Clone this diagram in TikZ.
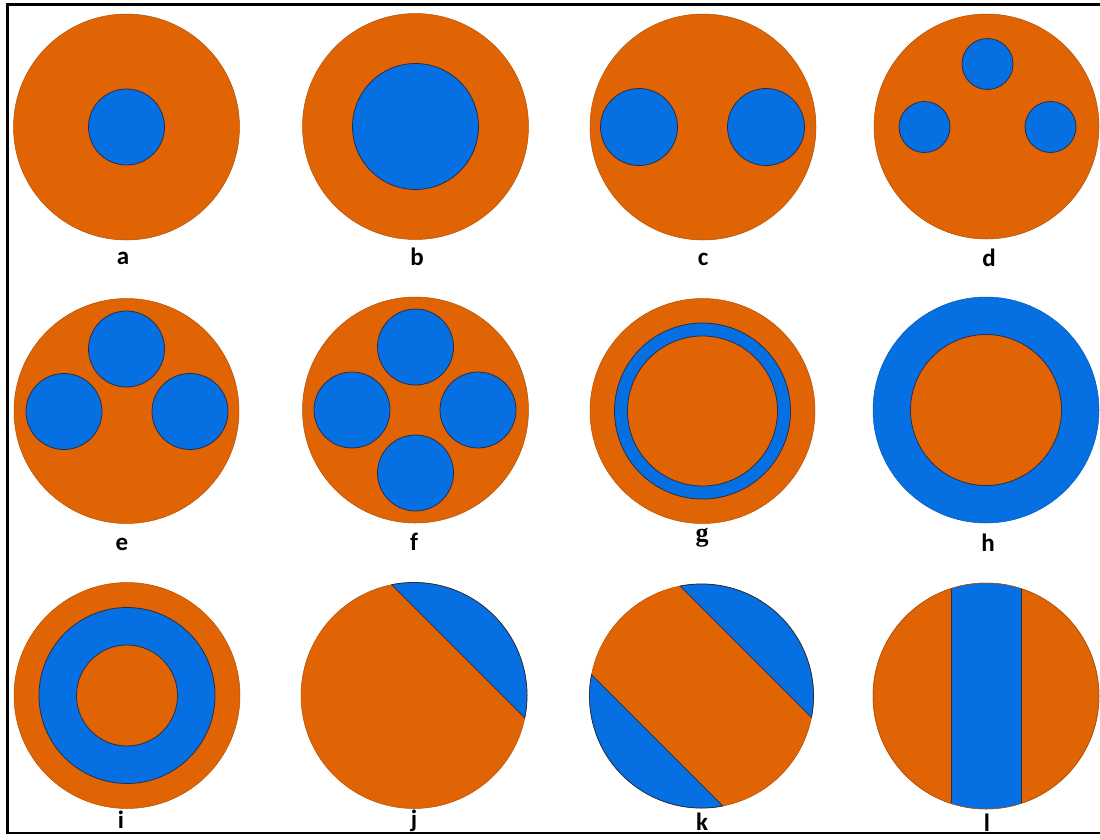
\documentclass[tikz,border=0pt]{standalone}
\usepackage{fontspec}
\usetikzlibrary{calc}
\newfontfamily\labfont{Carlito}
\newfontfamily\gfont{Liberation Serif}
\definecolor{myorange}{RGB}{224,100,4}
\definecolor{myblue}{RGB}{6,112,226}
\definecolor{edgecol}{RGB}{40,45,70}
\tikzset{
  outerO/.style={fill=myorange, draw=myorange!80!black, line width=0.5pt},
  outerB/.style={fill=myblue, draw=myblue!80!black, line width=0.5pt},
  blueP/.style={fill=myblue, draw=edgecol, line width=0.8pt},
  orangeP/.style={fill=myorange, draw=edgecol, line width=0.8pt},
  lab/.style={font=\labfont\bfseries\fontsize{25}{30}\selectfont, anchor=base, inner sep=0pt},
  glab/.style={font=\gfont\bfseries\fontsize{26}{30}\selectfont, anchor=base, inner sep=0pt},
  frame/.style={draw=black, line width=2.5pt}
}
\begin{document}
\begin{tikzpicture}[x=1pt,y=-1pt]
\useasboundingbox (0,0) rectangle (1100,839);
\fill[white] (0,0) rectangle (1100,839);
% centres
\coordinate (A) at (126.5,127);
\coordinate (B) at (415.5,126.5);
\coordinate (C) at (703,127);
\coordinate (D) at (986.5,126.5);
\coordinate (E) at (126.5,411);
\coordinate (F) at (415.5,410);
\coordinate (G) at (702.5,411);
\coordinate (H) at (986,410);
\coordinate (I) at (127,695.5);
\coordinate (J) at (414,695.5);
\coordinate (K) at (701.5,696);
\coordinate (L) at (986,696);
% a
\path[outerO] (A) circle[radius=113];
\path[blueP] (A) circle[radius=38];
% b
\path[outerO] (B) circle[radius=113];
\path[blueP] (B) circle[radius=63];
% c
\path[outerO] (C) circle[radius=113];
\path[blueP] ($(C)+(-64,0)$) circle[radius=38.5];
\path[blueP] ($(C)+(63,0)$) circle[radius=38.5];
% d
\path[outerO] (D) circle[radius=112.5];
\path[blueP] ($(D)+(1,-62.5)$) circle[radius=25.5];
\path[blueP] ($(D)+(-62,0.5)$) circle[radius=25.5];
\path[blueP] ($(D)+(64,0.5)$) circle[radius=25.5];
% e
\path[outerO] (E) circle[radius=112.5];
\path[blueP] ($(E)+(0,-62)$) circle[radius=38];
\path[blueP] ($(E)+(-62.5,0.5)$) circle[radius=38];
\path[blueP] ($(E)+(63.5,0.5)$) circle[radius=38];
% f
\path[outerO] (F) circle[radius=113];
\path[blueP] ($(F)+(0,-63)$) circle[radius=38];
\path[blueP] ($(F)+(-63.5,0)$) circle[radius=38];
\path[blueP] ($(F)+(62.5,0)$) circle[radius=38];
\path[blueP] ($(F)+(0,63)$) circle[radius=38];
% g
\path[outerO] (G) circle[radius=112.5];
\path[blueP] (G) circle[radius=88];
\path[orangeP] (G) circle[radius=75];
% h
\path[outerB] (H) circle[radius=113];
\path[orangeP] (H) circle[radius=75.5];
% i
\path[outerO] (I) circle[radius=113];
\path[blueP] (I) circle[radius=88];
\path[orangeP] (I) circle[radius=50.5];
% j
\path[outerO] (J) circle[radius=113];
\path[blueP] (J) ++(-101.4:113) arc[start angle=-101.4, end angle=11.4, radius=113] -- cycle;
% k
\path[outerO] (K) circle[radius=112];
\path[blueP] (K) ++(-101:112) arc[start angle=-101, end angle=11, radius=112] -- cycle;
\path[blueP] (K) ++(79:112) arc[start angle=79, end angle=191, radius=112] -- cycle;
% l
\path[outerO] (L) circle[radius=113];
\begin{scope}
  \clip (L) circle[radius=113];
  \path[blueP] (951,570) rectangle (1021,820);
\end{scope}
\path[draw=myorange!80!black, line width=0.5pt] (L) circle[radius=113];
% frame
\path[frame] (7.5,4.5) rectangle (1108,833);
% labels
\node[lab] (la) at (123,264) {a};
\node[lab] (lb) at (417,265) {b};
\node[lab] (lc) at (703,265) {c};
\node[lab] (ld) at (989,266) {d};
\node[lab] (le) at (122,550) {e};
\node[lab] (lf) at (414,550) {f};
\node[glab] (lg) at (702,541) {g};
\node[lab] (lh) at (988,551) {h};
\node[lab] (li) at (121,828) {i};
\node[lab] (lj) at (414,827) {j};
\node[lab] (lk) at (702,830) {k};
\node[lab] (ll) at (987,831) {l};
\end{tikzpicture}
\end{document}
